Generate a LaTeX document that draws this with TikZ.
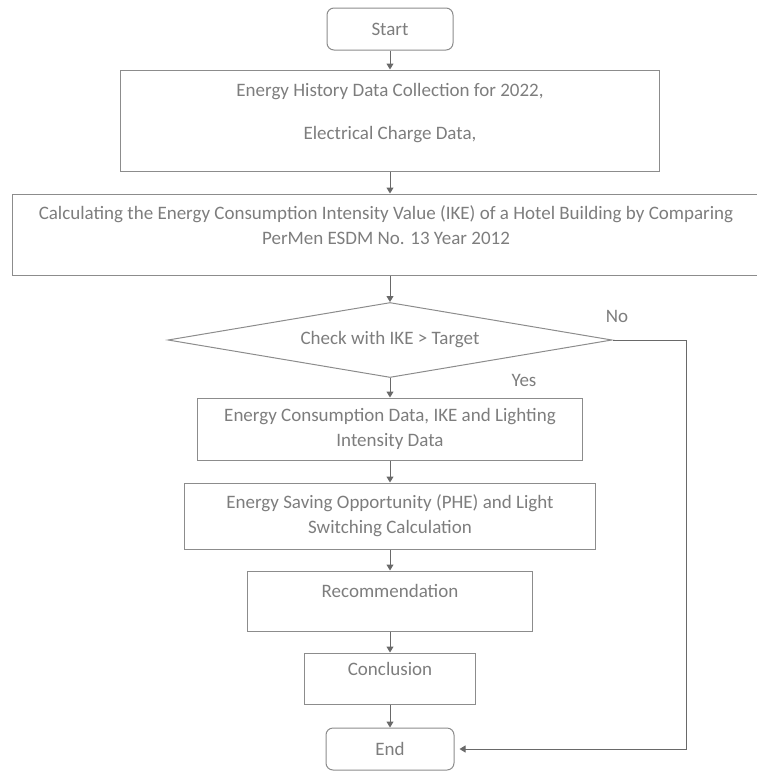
\documentclass[tikz,border=0pt]{standalone}
\usepackage{fontspec}
\setmainfont{Carlito}
\usetikzlibrary{shapes.geometric,arrows.meta}
\definecolor{boxgray}{RGB}{140,140,140}
\definecolor{arrowgray}{RGB}{105,105,105}
\definecolor{textgray}{RGB}{125,125,125}

\begin{document}
\begin{tikzpicture}[x=1pt,y=-1pt,stage/.style={draw=boxgray,line width=1pt,text=textgray,align=center,inner sep=0pt,font=\fontsize{19}{25}\selectfont},terminal/.style={stage,rounded corners=7pt},check/.style={stage,shape=diamond,aspect=6},flow/.style={draw=arrowgray,line width=1pt,-{Triangle[length=6pt,width=7pt]}},answer/.style={text=textgray,font=\fontsize{19}{22}\selectfont}]
\def\cx{390};

\useasboundingbox (0,0) rectangle (756,772);

\node[terminal,minimum width=126pt,minimum height=42pt] (start) at (\cx,29) {Start};

\node[stage,minimum width=539pt,minimum height=101pt,text depth=18pt] (history) at (\cx,120.5) {Energy History Data Collection for 2022,\\[18pt]Electrical Charge Data,};
\draw[flow] (start.south) -- (history.north);

\node[stage,minimum width=748pt,minimum height=81pt,text depth=18pt] (ike) at (386,234.5) {Calculating the Energy Consumption Intensity Value (IKE) of a Hotel Building by Comparing\\PerMen ESDM No. 13 Year 2012};
\draw[flow] (history.south) -- (history.south |- ike.north);

\node[check,minimum width=444pt,minimum height=75pt] (target) at (\cx,340) {Check with IKE > Target};
\draw[flow] (ike.south -| target.north) -- (target.north);

\node[stage,minimum width=385pt,minimum height=62pt] (lighting) at (\cx,429) {Energy Consumption Data, IKE and Lighting\\Intensity Data};
\draw[flow] (target.south) -- (lighting.north);
\node[answer] (yes) at (524,380) {Yes};

\node[stage,minimum width=411pt,minimum height=66pt] (phe) at (\cx,516) {Energy Saving Opportunity (PHE) and Light\\Switching Calculation};
\draw[flow] (lighting.south) -- (phe.north);

\node[stage,minimum width=285pt,minimum height=60pt,text depth=20pt] (advice) at (\cx,601) {Recommendation};
\draw[flow] (phe.south) -- (advice.north);

\node[stage,minimum width=171pt,minimum height=51pt,text depth=19pt] (summary) at (\cx,678.5) {Conclusion};
\draw[flow] (advice.south) -- (summary.north);

\node[terminal,minimum width=128pt,minimum height=42pt] (end) at (\cx,749) {End};
\draw[flow] (summary.south) -- (end.north);

\node[answer] (no) at (617,316) {No};
\coordinate (noturn) at (686,340);
\draw[flow,shorten >=5pt] (target.east) -- (noturn) |- (end.east);
\end{tikzpicture}
\end{document}
